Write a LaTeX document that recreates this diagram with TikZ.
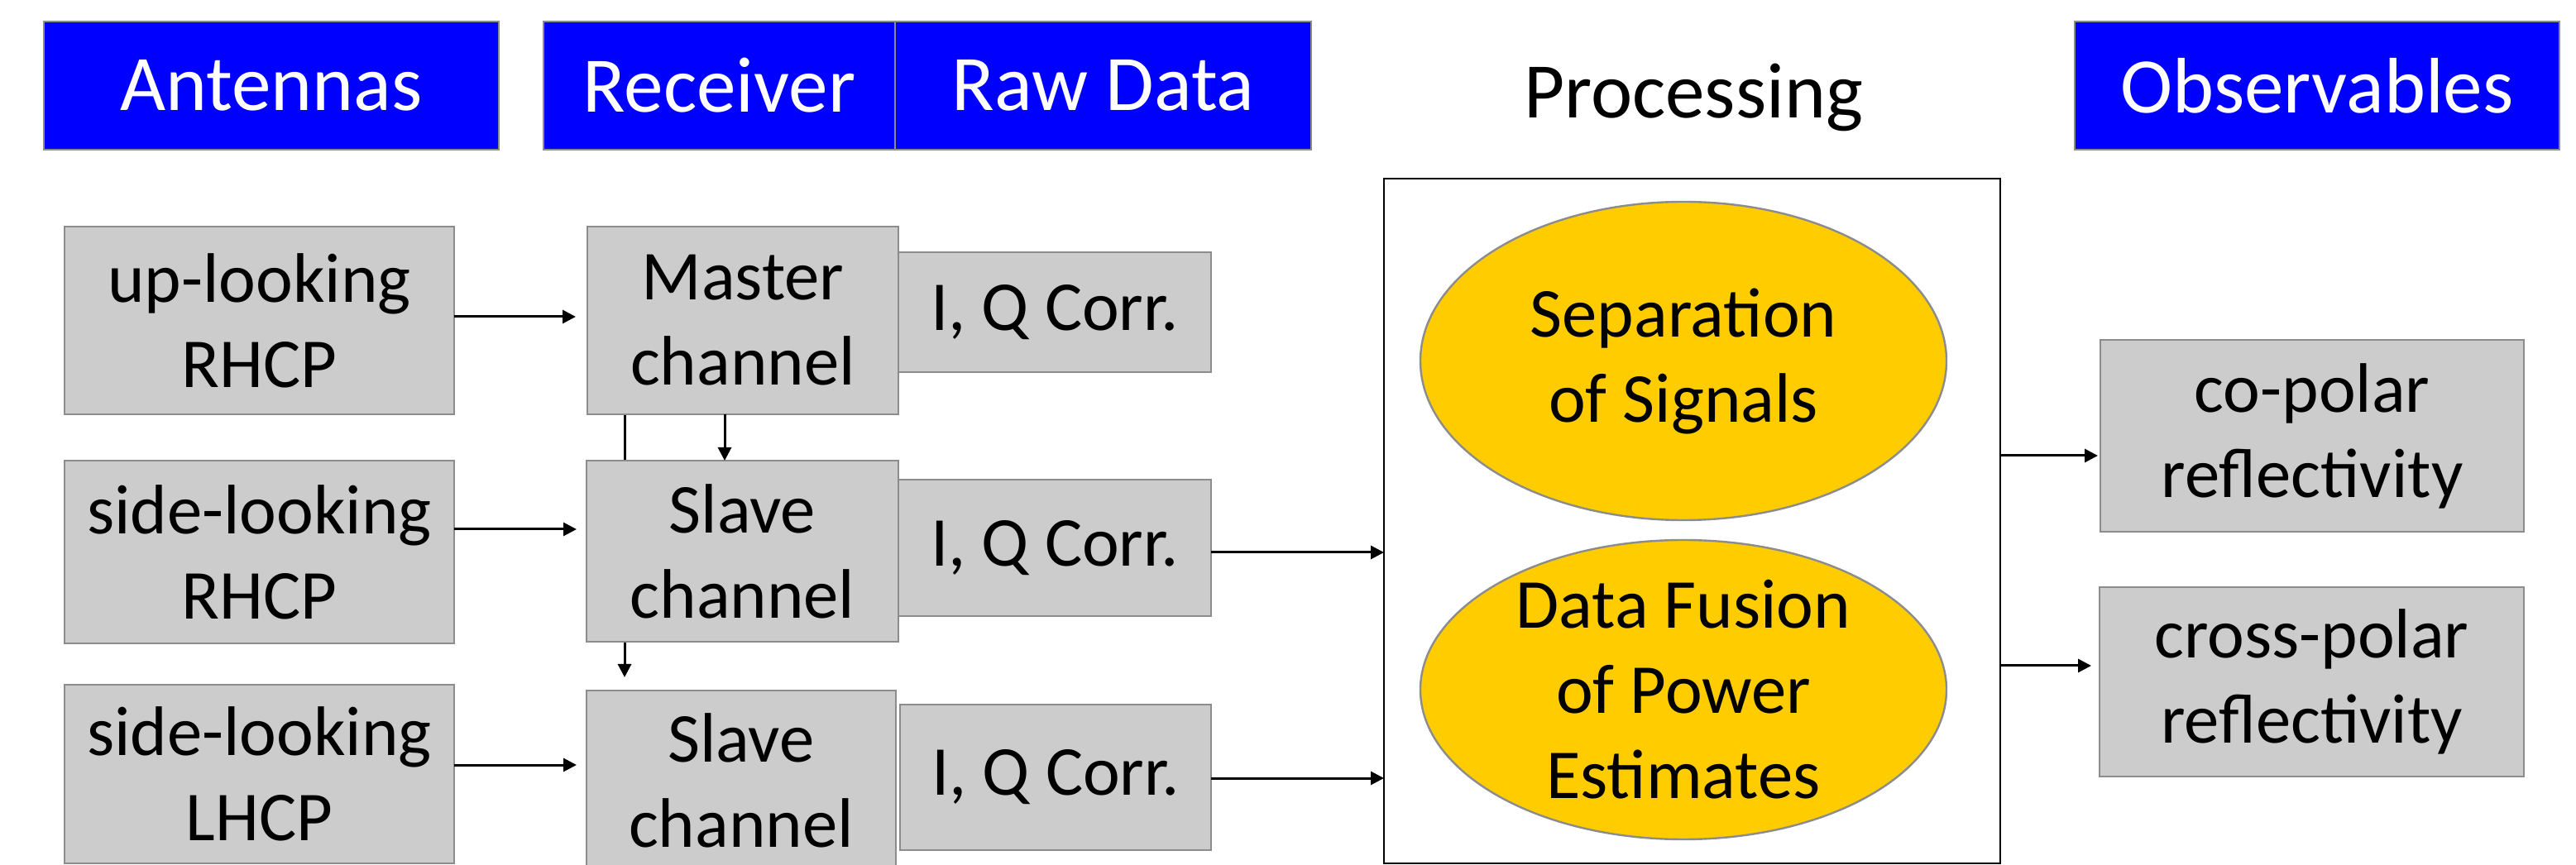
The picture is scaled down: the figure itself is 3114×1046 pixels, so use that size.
\documentclass[tikz,border=0pt]{standalone}
\usepackage{fontspec}
\setmainfont{Carlito}
\usetikzlibrary{arrows.meta,shapes.geometric,backgrounds}
\definecolor{boxgray}{HTML}{CCCCCC}
\definecolor{edgegray}{HTML}{8C8C8C}
\definecolor{hdrblue}{HTML}{0000FF}
\definecolor{ellgold}{HTML}{FFCC00}
% #1 style, #2 name, #3 x1, #4 y1, #5 x2, #6 y2, #7 text
\newcommand\rbox[7]{\node[#1, minimum width={(#5-#3)*0.25pt}, minimum height={(#6-#4)*0.25pt}] (#2) at ({(#3+#5)/2},{(#4+#6)/2}) {#7};}
\newcommand\hdrtext[1]{\raisebox{-1.5pt}{#1}}
\begin{document}
\begin{tikzpicture}[x=0.25pt,y=-0.25pt,
  hdr/.style={rectangle, draw=edgegray, line width=0.7pt, fill=hdrblue, text=white,
    font=\fontsize{23.8}{28}\selectfont, inner sep=0pt, outer sep=0pt},
  gbox/.style={rectangle, draw=edgegray, line width=0.6pt, fill=boxgray, align=center,
    font=\fontsize{21.2}{25.75}\selectfont, inner sep=0pt, outer sep=0pt},
  procbox/.style={rectangle, draw=black, line width=0.55pt, inner sep=0pt, outer sep=0pt},
  ell/.style={ellipse, draw=edgegray, line width=0.6pt, fill=ellgold, align=center,
    font=\fontsize{21.2}{25.75}\selectfont, inner xsep=0pt, inner ysep=-60pt, outer sep=0pt},
  arr/.style={line width=0.75pt, -{Triangle[length=4pt,width=4pt]}}]
\clip (0,0) rectangle (3114,1046);
% headers
\rbox{hdr}{hA}{53}{26}{603}{181}{\hdrtext{Antennas}}
\rbox{hdr}{hR}{657}{26}{1082}{181}{\hdrtext{Receiver}}
\rbox{hdr}{hD}{1082}{26}{1585}{181}{\hdrtext{Raw Data}}
\rbox{hdr}{hO}{2508}{26}{3094}{181}{\hdrtext{Observables}}
\node[anchor=base, font=\fontsize{23.8}{28}\selectfont, inner sep=0pt] (hP) at (2047,143) {Processing};
% antennas
\rbox{gbox}{A1}{78}{274}{549}{501}{up-looking\\RHCP}
\rbox{gbox}{A2}{78}{557}{549}{778}{side-looking\\RHCP}
\rbox{gbox}{A3}{78}{828}{549}{1044}{side-looking\\LHCP}
% receiver
\rbox{gbox}{M}{710}{274}{1086}{501}{Master\\channel}
\rbox{gbox}{S1}{709}{557}{1086}{776}{Slave\\channel}
\rbox{gbox}{S2}{709}{835}{1083}{1053}{Slave\\channel}
% raw data
\rbox{gbox}{Q1}{1086}{305}{1464}{450}{I, Q Corr.}
\rbox{gbox}{Q2}{1086}{580}{1464}{745}{I, Q Corr.}
\rbox{gbox}{Q3}{1088}{852}{1464}{1028}{I, Q Corr.}
% processing
\rbox{procbox}{P}{1673}{216}{2418}{1044}{}
\node[ell, minimum width=159pt, minimum height=96.25pt] (E1) at (2035,436.5) {Separation\\of Signals};
\node[ell, minimum width=159pt, minimum height=90.5pt] (E2) at (2035,834) {Data Fusion\\of Power\\Estimates};
% observables
\rbox{gbox}{CO}{2539}{411}{3051}{643}{co-polar\\reflectivity}
\rbox{gbox}{CX}{2538}{710}{3051}{939}{cross-polar\\reflectivity}
% connectors
\draw[arr, shorten >=3.5pt] (A1.east |- 0,383) -- (M.west |- 0,383);
\draw[arr, shorten >=3pt] (A2.east |- 0,640) -- (S1.west |- 0,640);
\draw[arr, shorten >=3pt] (A3.east |- 0,925) -- (S2.west |- 0,925);
\draw[arr] (M.south -| 876,0) -- (S1.north -| 876,0);
\begin{scope}[on background layer]
\draw[arr, shorten >=4pt] (M.south -| 755,0) -- (S2.north -| 755,0);
\end{scope}
\draw[arr] (Q2.east |- 0,668) -- (P.west |- 0,668);
\draw[arr] (Q3.east |- 0,941) -- (P.west |- 0,941);
\draw[arr, shorten >=0.75pt] (P.east |- 0,551) -- (CO.west |- 0,551);
\draw[arr, shorten >=2.5pt] (P.east |- 0,805) -- (CX.west |- 0,805);
\end{tikzpicture}
\end{document}
